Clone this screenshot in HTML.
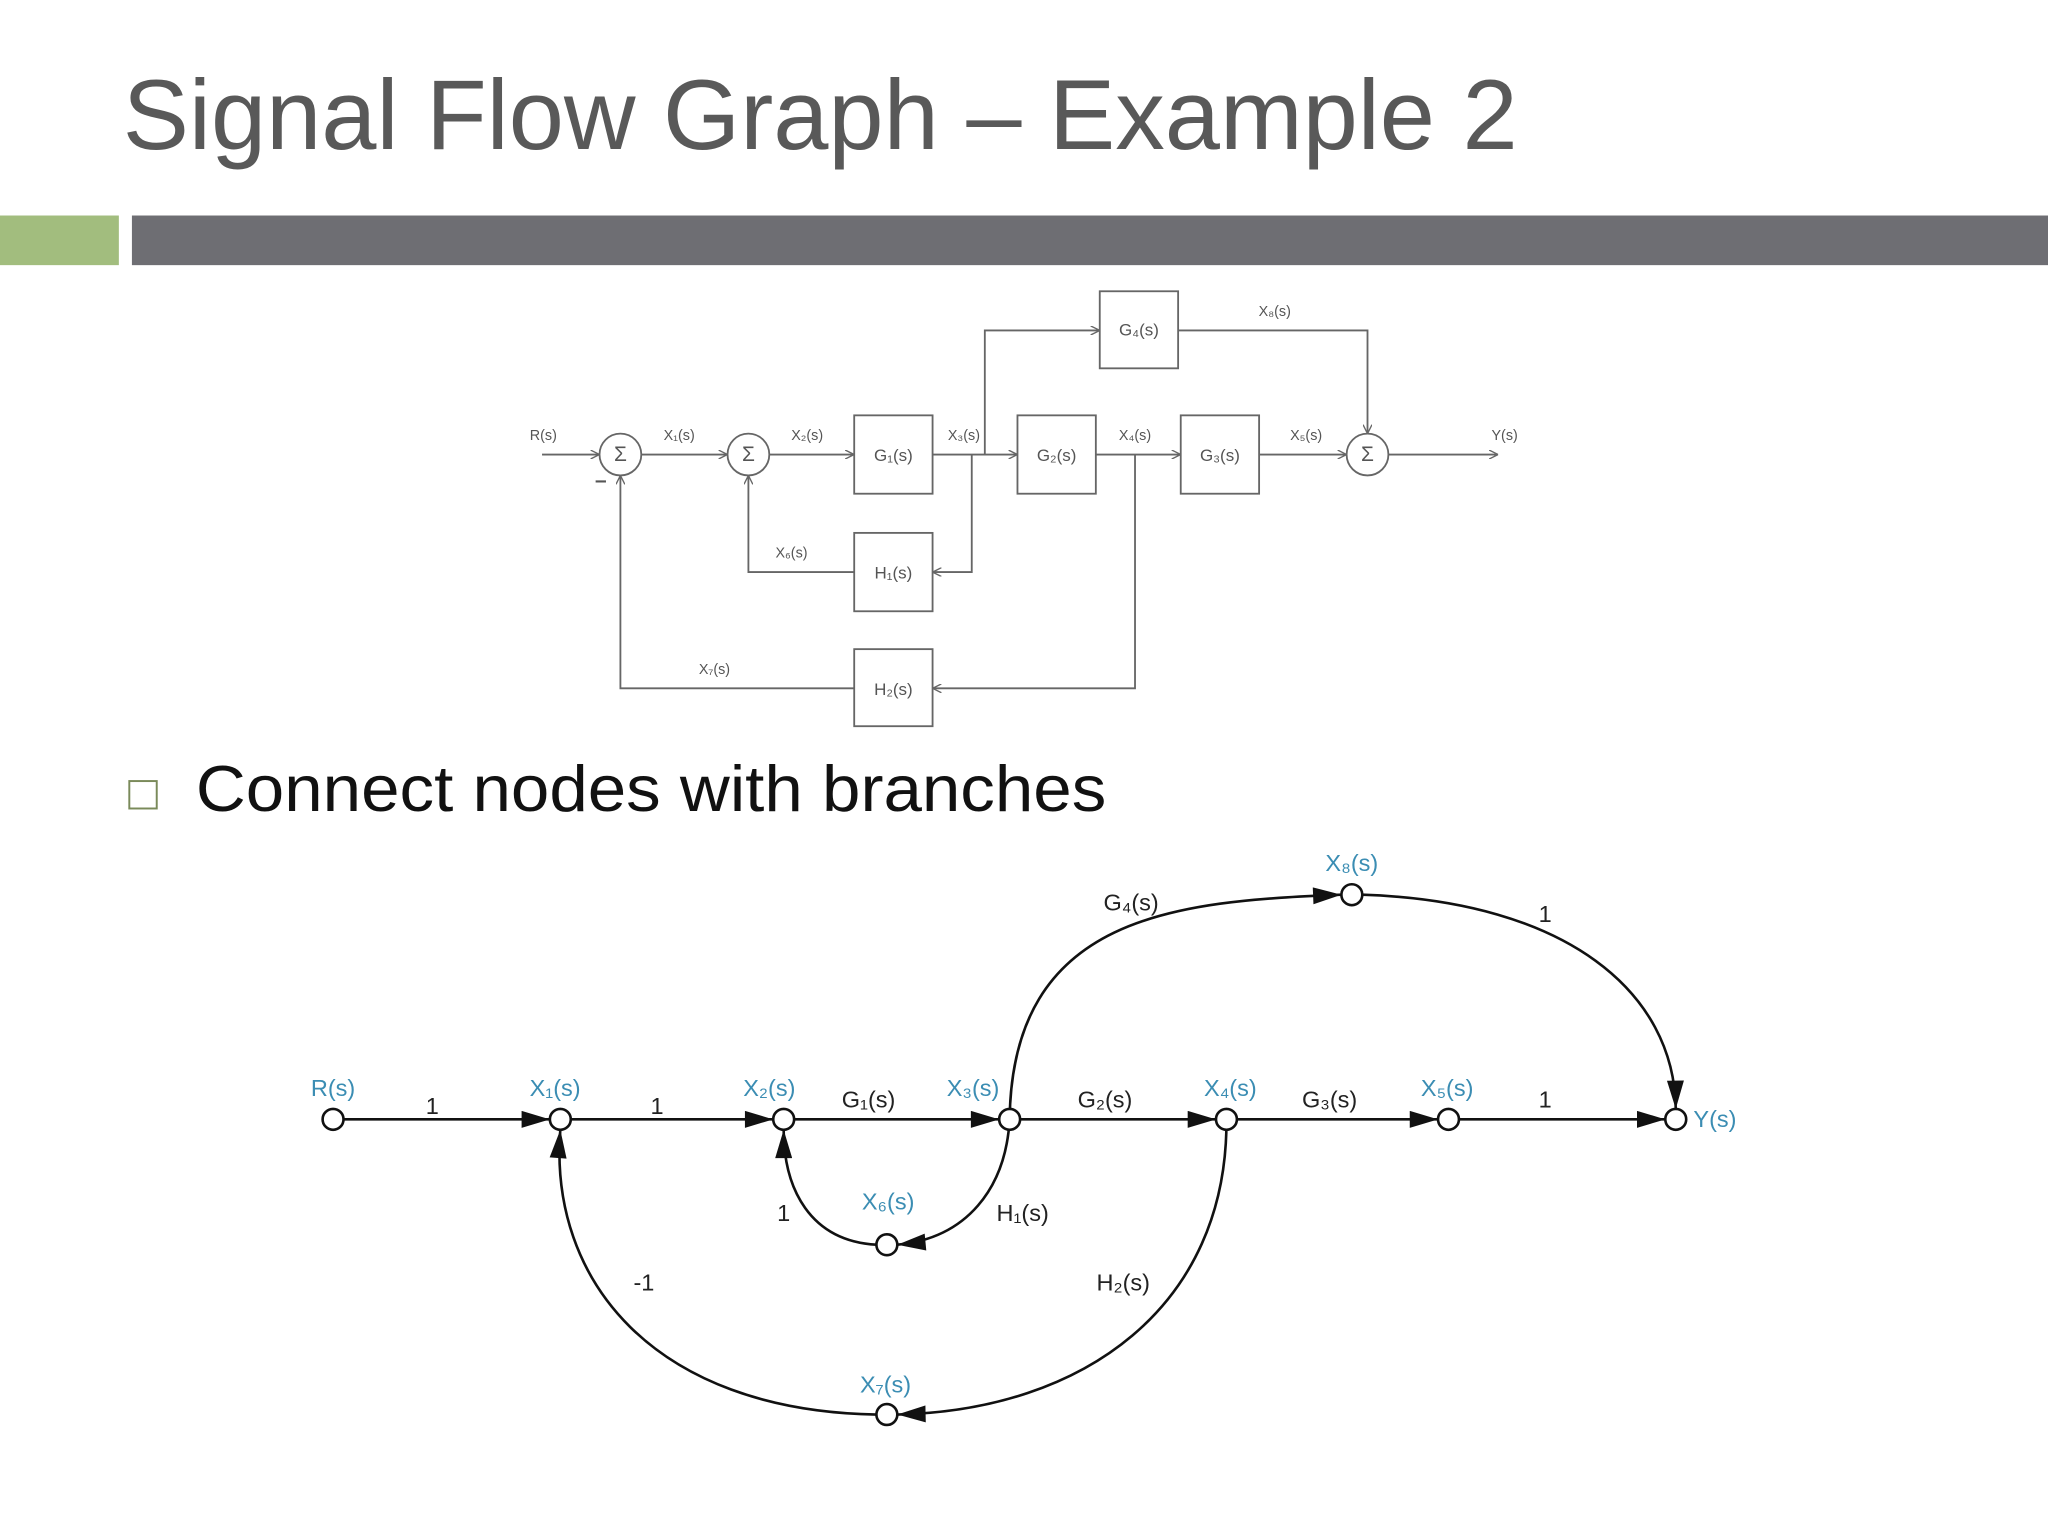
<!DOCTYPE html>
<html><head><meta charset="utf-8"><style>
html,body{margin:0;padding:0;background:#fff;}
svg{display:block}
</style></head><body>
<svg width="2048" height="1536" viewBox="0 0 1568 1176" xmlns="http://www.w3.org/2000/svg">
<defs>
<marker id="s" viewBox="0 0 10 10" refX="10" refY="5" markerWidth="7" markerHeight="7" markerUnits="userSpaceOnUse" orient="auto"><path d="M0,0 L10,5 L0,10" fill="none" stroke="#666" stroke-width="1.5"/></marker>
<marker id="b" viewBox="0 0 20 12" refX="20" refY="6" markerWidth="22" markerHeight="13" markerUnits="userSpaceOnUse" orient="auto"><path d="M0,0 L20,6 L0,12 z" fill="#111"/></marker>
</defs>
<text x="94" y="114" font-family="Liberation Sans, sans-serif" font-size="76" fill="#595959" textLength="1068" lengthAdjust="spacingAndGlyphs">Signal Flow Graph – Example 2</text>
<rect x="0" y="165" width="91" height="38" fill="#a2bd7e"/>
<rect x="101" y="165" width="1467" height="38" fill="#6e6e73"/>

<g stroke="#666" stroke-width="1.4" fill="none">
<rect x="842" y="223" width="60" height="59"/>
<rect x="654" y="318" width="60" height="60"/>
<rect x="779" y="318" width="60" height="60"/>
<rect x="904" y="318" width="60" height="60"/>
<rect x="654" y="408" width="60" height="60"/>
<rect x="654" y="497" width="60" height="59"/>
<circle cx="475" cy="348" r="16"/><circle cx="573" cy="348" r="16"/><circle cx="1047" cy="348" r="16"/>
<path d="M415,348 H459" marker-end="url(#s)"/>
<path d="M491,348 H557" marker-end="url(#s)"/>
<path d="M589,348 H654" marker-end="url(#s)"/>
<path d="M714,348 H779" marker-end="url(#s)"/>
<path d="M839,348 H904" marker-end="url(#s)"/>
<path d="M964,348 H1031" marker-end="url(#s)"/>
<path d="M1063,348 H1147" marker-end="url(#s)"/>
<path d="M754,348 V253 H842" marker-end="url(#s)"/>
<path d="M902,253 H1047 V332" marker-end="url(#s)"/>
<path d="M744,348 V438 H714" marker-end="url(#s)"/>
<path d="M654,438 H573 V364" marker-end="url(#s)"/>
<path d="M869,348 V527 H714" marker-end="url(#s)"/>
<path d="M654,527 H475 V364" marker-end="url(#s)"/>
</g>
<g font-family="Liberation Sans, sans-serif" font-size="11" fill="#555" text-anchor="middle">
<text x="475" y="353" font-size="16">Σ</text><text x="573" y="353" font-size="16">Σ</text><text x="1047" y="353" font-size="16">Σ</text>
<text x="872" y="257" font-size="13">G₄(s)</text>
<text x="684" y="353" font-size="13">G₁(s)</text>
<text x="809" y="353" font-size="13">G₂(s)</text>
<text x="934" y="353" font-size="13">G₃(s)</text>
<text x="684" y="443" font-size="13">H₁(s)</text>
<text x="684" y="532" font-size="13">H₂(s)</text>
<text x="416" y="337">R(s)</text><text x="520" y="337">X₁(s)</text><text x="618" y="337">X₂(s)</text>
<text x="738" y="337">X₃(s)</text><text x="869" y="337">X₄(s)</text><text x="1000" y="337">X₅(s)</text>
<text x="1152" y="337">Y(s)</text><text x="976" y="242">X₈(s)</text>
<text x="606" y="427">X₆(s)</text><text x="547" y="516">X₇(s)</text>
<text x="460" y="373" font-size="16" font-weight="bold">–</text>
</g>

<rect x="99" y="598" width="21" height="21" fill="none" stroke="#7a8a5a" stroke-width="1.5"/>
<text x="150" y="621" font-family="Liberation Sans, sans-serif" font-size="50" fill="#111" textLength="697" lengthAdjust="spacingAndGlyphs">Connect nodes with branches</text>

<g stroke="#111" stroke-width="2" fill="none">
<path d="M263,857 H421" marker-end="url(#b)"/>
<path d="M437,857 H592" marker-end="url(#b)"/>
<path d="M608,857 H765" marker-end="url(#b)"/>
<path d="M781,857 H931" marker-end="url(#b)"/>
<path d="M947,857 H1101" marker-end="url(#b)"/>
<path d="M1117,857 H1275" marker-end="url(#b)"/>
<path d="M773,857 C775,700 900,690 1027,685" marker-end="url(#b)"/>
<path d="M1043,685 C1200,690 1282,760 1283,849" marker-end="url(#b)"/>
<path d="M773,857 C770,910 740,948 687,953" marker-end="url(#b)"/>
<path d="M671,953 C620,950 600,910 600,865" marker-end="url(#b)"/>
<path d="M939,857 C940,1000 830,1080 687,1083" marker-end="url(#b)"/>
<path d="M671,1083 C500,1080 420,980 429,865" marker-end="url(#b)"/>
</g>
<g stroke="#111" stroke-width="2" fill="#fff">
<circle cx="255" cy="857" r="8"/><circle cx="429" cy="857" r="8"/><circle cx="600" cy="857" r="8"/>
<circle cx="773" cy="857" r="8"/><circle cx="939" cy="857" r="8"/><circle cx="1109" cy="857" r="8"/>
<circle cx="1283" cy="857" r="8"/><circle cx="1035" cy="685" r="8"/><circle cx="679" cy="953" r="8"/><circle cx="679" cy="1083" r="8"/>
</g>
<g font-family="Liberation Sans, sans-serif" font-size="18" fill="#3b8db3" text-anchor="middle">
<text x="255" y="839">R(s)</text><text x="425" y="839">X₁(s)</text><text x="589" y="839">X₂(s)</text>
<text x="745" y="839">X₃(s)</text><text x="942" y="839">X₄(s)</text><text x="1108" y="839">X₅(s)</text>
<text x="1313" y="863">Y(s)</text><text x="1035" y="667">X₈(s)</text><text x="680" y="926">X₆(s)</text><text x="678" y="1066">X₇(s)</text>
</g>
<g font-family="Liberation Sans, sans-serif" font-size="18" fill="#222" text-anchor="middle">
<text x="331" y="853">1</text><text x="503" y="853">1</text><text x="665" y="848">G₁(s)</text>
<text x="846" y="848">G₂(s)</text><text x="1018" y="848">G₃(s)</text><text x="1183" y="848">1</text>
<text x="866" y="697">G₄(s)</text><text x="1183" y="706">1</text>
<text x="600" y="935">1</text><text x="783" y="935">H₁(s)</text>
<text x="860" y="988">H₂(s)</text><text x="493" y="988">-1</text>
</g>
</svg>
</body></html>
